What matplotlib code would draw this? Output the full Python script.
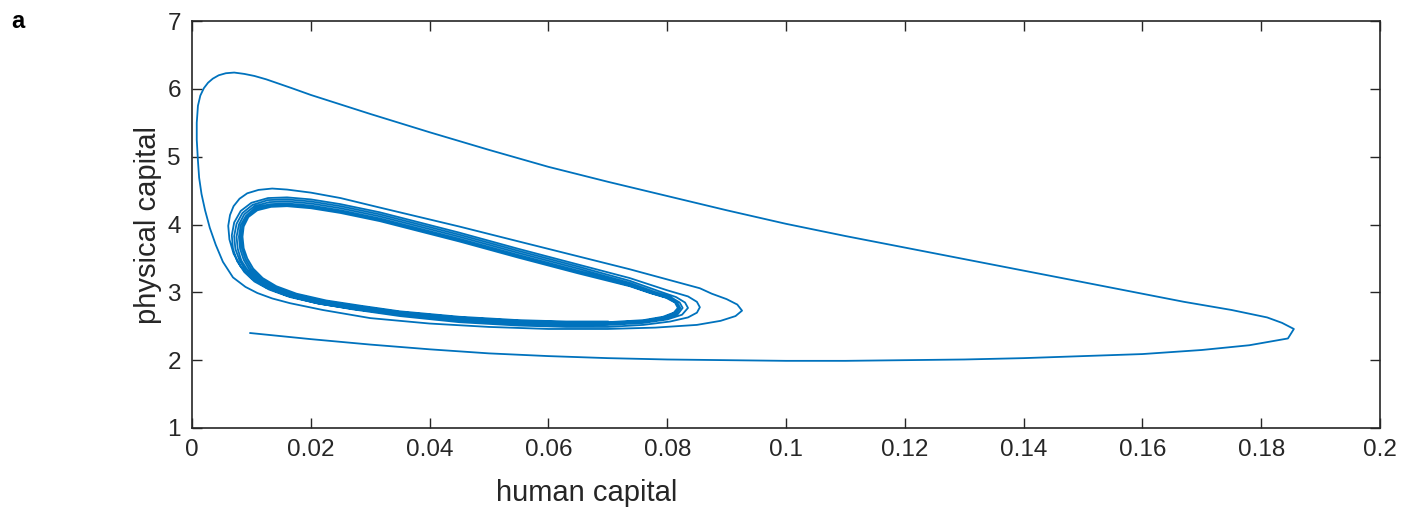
import numpy as np
import matplotlib
matplotlib.use("Agg")
import matplotlib.pyplot as plt

# ---- data (human capital, physical capital) ----
# big outer excursion: start, bottom run to the right tip, back along the top
outer_x = [0.0098, 0.020, 0.030, 0.040, 0.050, 0.060, 0.070, 0.080, 0.090, 0.100,
           0.110, 0.120, 0.130, 0.140, 0.150, 0.160, 0.170, 0.178, 0.1845, 0.1855,
           0.1835, 0.181, 0.175, 0.167, 0.160, 0.150, 0.140, 0.130, 0.120, 0.110,
           0.100, 0.090, 0.080, 0.070, 0.060, 0.050, 0.040, 0.0337, 0.030,
           0.025, 0.020, 0.0168, 0.0145, 0.0125, 0.0105, 0.0088, 0.0071, 0.0057, 0.0045,
           0.0035, 0.0027, 0.0020, 0.0014, 0.0010, 0.0008, 0.0008, 0.0009, 0.0010, 0.0012,
           0.0016, 0.0022, 0.0030, 0.0040, 0.0052, 0.0069, 0.0090, 0.0110, 0.0135, 0.0165,
           0.0220, 0.0300, 0.0400, 0.0500, 0.0600, 0.0700, 0.0780, 0.0850, 0.0890, 0.0915,
           0.0926]
outer_y = [2.40, 2.31, 2.23, 2.16, 2.10, 2.06, 2.03, 2.01, 2.00, 1.99,
           1.99, 2.00, 2.01, 2.03, 2.06, 2.09, 2.15, 2.22, 2.32, 2.46,
           2.55, 2.63, 2.74, 2.86, 2.98, 3.15, 3.32, 3.49, 3.66, 3.83,
           4.01, 4.21, 4.42, 4.63, 4.85, 5.10, 5.36, 5.53, 5.63,
           5.77, 5.91, 6.01, 6.08, 6.14, 6.19, 6.22, 6.24, 6.23, 6.20,
           6.15, 6.09, 6.01, 5.90, 5.75, 5.50, 5.25, 5.10, 4.94, 4.69,
           4.45, 4.21, 3.95, 3.70, 3.45, 3.22, 3.08, 2.99, 2.91, 2.84,
           2.74, 2.62, 2.54, 2.49, 2.46, 2.46, 2.48, 2.52, 2.58, 2.65,
           2.73]

# loop A: top from the 0.0926 tip, around the left side
loopA_x = [0.0918, 0.0900, 0.0875, 0.0855, 0.0800, 0.0737, 0.0650, 0.0550, 0.0450, 0.0316,
           0.0250, 0.0200, 0.0160, 0.0135, 0.0112, 0.0093, 0.0080, 0.0070, 0.0064, 0.0061,
           0.0063, 0.0070, 0.0082, 0.0100, 0.0125, 0.0160, 0.0210, 0.0270]
loopA_y = [2.82, 2.90, 2.98, 3.06, 3.19, 3.34, 3.53, 3.75, 3.97, 4.25,
           4.39, 4.47, 4.515, 4.53, 4.51, 4.46, 4.38, 4.27, 4.14, 3.98,
           3.78, 3.57, 3.38, 3.21, 3.07, 2.95, 2.84, 2.75]

loopB_x = [0.0350, 0.0450, 0.0550, 0.0630, 0.0700, 0.0760, 0.0805, 0.0835, 0.0850, 0.0855,
           0.0850, 0.0835, 0.0800, 0.0737, 0.0650, 0.0550, 0.0450, 0.0316, 0.0250, 0.0200,
           0.0160, 0.0128, 0.0100, 0.0082, 0.0071, 0.0067, 0.0069, 0.0076, 0.0088, 0.0105,
           0.0130, 0.0165, 0.0215, 0.0275]
loopB_y = [2.65, 2.56, 2.51, 2.49, 2.49, 2.52, 2.57, 2.63, 2.70, 2.78,
           2.86, 2.94, 3.03, 3.21, 3.41, 3.64, 3.88, 4.18, 4.30, 4.37,
           4.40, 4.39, 4.32, 4.20, 4.03, 3.84, 3.64, 3.46, 3.30, 3.16,
           3.04, 2.93, 2.83, 2.75]

loopC_x = [0.0350, 0.0450, 0.0550, 0.0630, 0.0700, 0.0760, 0.0800, 0.0825, 0.0835,
           0.0830, 0.0815, 0.0785, 0.0737, 0.0650, 0.0550, 0.0450, 0.0316, 0.0250, 0.0200,
           0.0160, 0.0128, 0.0102, 0.0085, 0.0075, 0.0071, 0.0073, 0.0080, 0.0091, 0.0108,
           0.0133, 0.0168, 0.0218, 0.0278]
loopC_y = [2.67, 2.58, 2.53, 2.51, 2.52, 2.55, 2.60, 2.67, 2.77,
           2.85, 2.93, 3.02, 3.17, 3.38, 3.61, 3.85, 4.15, 4.27, 4.34,
           4.37, 4.36, 4.29, 4.17, 4.01, 3.83, 3.64, 3.47, 3.31, 3.17,
           3.05, 2.94, 2.84, 2.76]

loopD_x = [0.0350, 0.0450, 0.0550, 0.0630, 0.0700, 0.0760, 0.0798, 0.0818, 0.0826,
           0.0821, 0.0806, 0.0778, 0.0737, 0.0650, 0.0550, 0.0450, 0.0316, 0.0250, 0.0200,
           0.0160, 0.0130, 0.0105, 0.0088, 0.0079, 0.0075, 0.0077, 0.0083, 0.0094, 0.0111,
           0.0136, 0.0170, 0.0220, 0.0280]
loopD_y = [2.68, 2.59, 2.54, 2.52, 2.53, 2.56, 2.61, 2.68, 2.77,
           2.85, 2.93, 3.01, 3.14, 3.35, 3.58, 3.82, 4.12, 4.24, 4.31,
           4.34, 4.33, 4.27, 4.15, 4.00, 3.82, 3.64, 3.47, 3.32, 3.18,
           3.06, 2.95, 2.85, 2.77]

loopE_x = [0.0350, 0.0450, 0.0550, 0.0630, 0.0700, 0.0760, 0.0796, 0.0815, 0.0822,
           0.0817, 0.0802, 0.0775, 0.0737, 0.0650, 0.0550, 0.0450, 0.0316, 0.0250, 0.0200,
           0.0160, 0.0131, 0.0107, 0.0091, 0.0082, 0.0079, 0.0081, 0.0087, 0.0097, 0.0114,
           0.0138, 0.0172, 0.0222, 0.0282]
loopE_y = [2.69, 2.61, 2.56, 2.54, 2.54, 2.57, 2.62, 2.69, 2.77,
           2.85, 2.93, 3.00, 3.12, 3.32, 3.55, 3.79, 4.09, 4.21, 4.28,
           4.31, 4.30, 4.25, 4.13, 3.99, 3.82, 3.64, 3.48, 3.33, 3.19,
           3.07, 2.96, 2.86, 2.78]

loopF_x = [0.0350, 0.0450, 0.0550, 0.0630, 0.0700, 0.0760, 0.0794, 0.0813, 0.0820,
           0.0815, 0.0800, 0.0773, 0.0737, 0.0650, 0.0550, 0.0450, 0.0316, 0.0250, 0.0200,
           0.0160, 0.0132, 0.0109, 0.0093, 0.0085, 0.0082, 0.0084, 0.0090, 0.0100, 0.0116,
           0.0140, 0.0174, 0.0224, 0.0284]
loopF_y = [2.70, 2.62, 2.57, 2.55, 2.55, 2.58, 2.63, 2.70, 2.77,
           2.85, 2.92, 2.99, 3.10, 3.30, 3.53, 3.77, 4.07, 4.19, 4.26,
           4.29, 4.28, 4.23, 4.12, 3.98, 3.82, 3.65, 3.49, 3.34, 3.20,
           3.08, 2.97, 2.87, 2.79]

loopG_x = [0.0350, 0.0450, 0.0550, 0.0630, 0.0700, 0.0760, 0.0793, 0.0811, 0.0818,
           0.0813, 0.0798, 0.0771, 0.0737, 0.0650, 0.0550, 0.0450, 0.0316, 0.0250, 0.0200,
           0.0160, 0.0133, 0.0110, 0.0095, 0.0087, 0.0085, 0.0087, 0.0093, 0.0103, 0.0119,
           0.0142, 0.0176, 0.0226, 0.0286, 0.0350, 0.0450, 0.0550, 0.0630, 0.0700]
loopG_y = [2.71, 2.63, 2.58, 2.56, 2.56, 2.59, 2.64, 2.70, 2.77,
           2.85, 2.92, 2.99, 3.09, 3.28, 3.51, 3.75, 4.05, 4.17, 4.24,
           4.27, 4.26, 4.21, 4.11, 3.97, 3.82, 3.65, 3.50, 3.35, 3.21,
           3.09, 2.98, 2.88, 2.80, 2.72, 2.64, 2.59, 2.57, 2.57]

x_ticks = [0, 0.02, 0.04, 0.06, 0.08, 0.1, 0.12, 0.14, 0.16, 0.18, 0.2]
x_tick_labels = ["0", "0.02", "0.04", "0.06", "0.08", "0.1", "0.12", "0.14", "0.16", "0.18", "0.2"]
y_ticks = [1, 2, 3, 4, 5, 6, 7]
y_tick_labels = ["1", "2", "3", "4", "5", "6", "7"]

# ---- assemble trajectory ----
traj_x = np.concatenate([outer_x, loopA_x, loopB_x, loopC_x, loopD_x, loopE_x, loopF_x, loopG_x])
traj_y = np.concatenate([outer_y, loopA_y, loopB_y, loopC_y, loopD_y, loopE_y, loopF_y, loopG_y])

plt.rcParams['font.family'] = ['Liberation Sans', 'DejaVu Sans']

fig = plt.figure(figsize=(14.05, 5.11), dpi=100)
ax = fig.add_axes([192 / 1405, 1 - 428 / 511, (1380 - 192) / 1405, (428 - 21) / 511])

ax.plot(traj_x, traj_y, color='#0072BD', lw=1.3, solid_joinstyle='round')

ax.set_xlim(0, 0.2)
ax.set_ylim(1, 7)
ax.set_xticks(x_ticks)
ax.set_xticklabels(x_tick_labels)
ax.set_yticks(y_ticks)
ax.set_yticklabels(y_tick_labels)

dark = '#262626'
ax.tick_params(direction='in', length=7, width=1.0, colors=dark, labelcolor=dark,
               labelsize=17.5, top=True, right=True, pad=8)
for s in ax.spines.values():
    s.set_color(dark)
    s.set_linewidth(1.2)

ax.set_xlabel('human capital', fontsize=21, color=dark)
ax.xaxis.set_label_coords((587 - 192) / 1188, -0.125)
ax.set_ylabel('physical capital', fontsize=21, color=dark)

fig.text(11 / 1405, 1 - 22 / 511, 'a', fontsize=17, fontweight='bold', color='black',
         va='center', ha='left')

fig.savefig('out.png', dpi=100)
